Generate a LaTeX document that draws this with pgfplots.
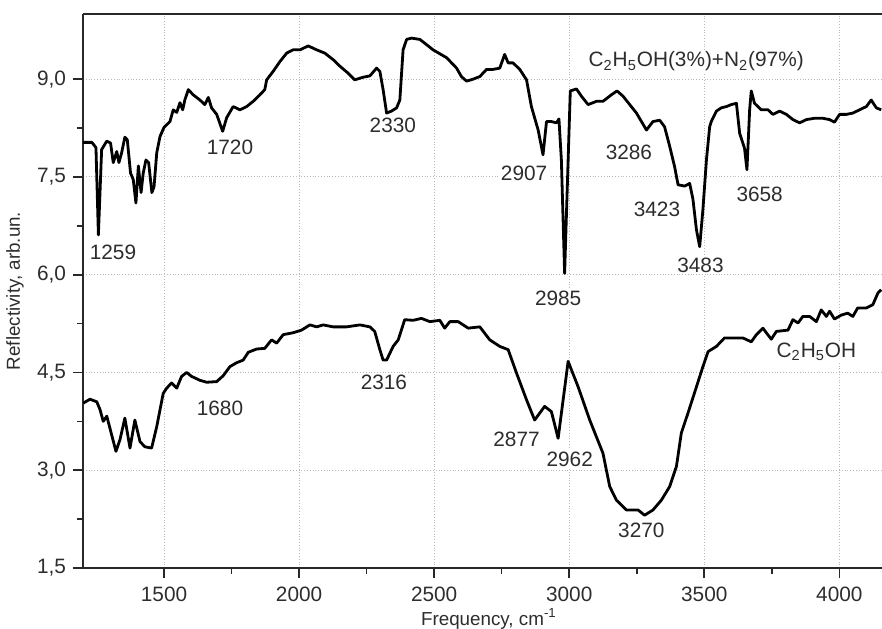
\documentclass[border=0pt]{standalone}
\usepackage{fontspec}
\setmainfont{Liberation Sans}
\usepackage{pgfplots}
\usepackage{pgfplotstable}
\pgfplotsset{compat=1.18}
\usetikzlibrary{calc}

\definecolor{axisgray}{RGB}{40,40,40}
\definecolor{txtgray}{RGB}{45,45,45}
\tikzset{lab/.style={font=\fontsize{10.4}{12}\selectfont, text=txtgray, fill=white, inner sep=1pt}}

% C2H5OH(3%)+N2(97%)
\pgfplotstableread{
x y
1200 8.03
1233 8.03
1248 7.95
1257 6.61
1269 7.92
1288 8.05
1302 8.02
1312 7.72
1325 7.89
1333 7.72
1343 7.87
1355 8.11
1364 8.07
1376 7.56
1386 7.46
1396 7.10
1405 7.67
1415 7.26
1423 7.56
1433 7.76
1443 7.72
1455 7.26
1463 7.35
1473 7.87
1485 8.12
1500 8.26
1522 8.35
1534 8.53
1547 8.49
1559 8.64
1569 8.53
1577 8.68
1590 8.84
1608 8.76
1633 8.68
1651 8.61
1664 8.72
1676 8.56
1695 8.46
1717 8.20
1732 8.41
1756 8.58
1781 8.53
1806 8.58
1830 8.66
1855 8.76
1873 8.84
1880 8.99
1904 9.12
1929 9.27
1954 9.40
1978 9.45
2003 9.45
2034 9.51
2065 9.45
2095 9.40
2126 9.30
2151 9.20
2182 9.09
2206 8.99
2237 9.03
2262 9.05
2287 9.17
2299 9.12
2311 8.84
2324 8.48
2342 8.51
2361 8.56
2373 8.68
2385 9.45
2398 9.61
2416 9.63
2447 9.61
2472 9.53
2496 9.45
2546 9.33
2583 9.17
2601 9.04
2620 8.97
2644 9.00
2669 9.04
2694 9.15
2718 9.15
2743 9.17
2761 9.38
2774 9.25
2792 9.25
2817 9.15
2842 8.99
2860 8.58
2885 8.22
2903 7.84
2916 8.35
2934 8.35
2953 8.33
2962 8.39
2971 7.76
2983 6.02
2996 7.76
3004 8.82
3027 8.85
3045 8.74
3070 8.61
3101 8.66
3125 8.66
3156 8.76
3177 8.82
3199 8.74
3224 8.61
3249 8.48
3286 8.22
3310 8.35
3335 8.37
3353 8.27
3372 7.97
3390 7.66
3403 7.38
3427 7.36
3446 7.40
3458 7.16
3471 6.69
3483 6.43
3495 7.00
3508 7.76
3520 8.27
3526 8.35
3545 8.51
3563 8.56
3582 8.58
3600 8.61
3619 8.63
3631 8.17
3649 7.94
3658 7.61
3668 8.53
3674 8.82
3686 8.63
3711 8.53
3736 8.53
3754 8.46
3779 8.51
3804 8.46
3828 8.38
3853 8.33
3878 8.38
3908 8.40
3939 8.40
3964 8.38
3982 8.34
4001 8.46
4026 8.46
4050 8.48
4075 8.53
4100 8.58
4118 8.68
4137 8.56
4155 8.53
}\mixture

% C2H5OH
\pgfplotstableread{
x y
1201 4.03
1226 4.09
1251 4.05
1263 3.93
1275 3.75
1288 3.83
1300 3.64
1322 3.29
1337 3.47
1355 3.80
1374 3.34
1392 3.77
1411 3.44
1429 3.36
1454 3.34
1473 3.67
1497 4.18
1510 4.26
1528 4.34
1547 4.26
1565 4.44
1584 4.50
1602 4.44
1633 4.38
1658 4.35
1695 4.36
1719 4.45
1744 4.59
1769 4.65
1793 4.69
1812 4.81
1843 4.86
1873 4.87
1898 5.00
1917 4.95
1941 5.08
1978 5.11
2009 5.15
2040 5.23
2065 5.20
2089 5.23
2126 5.20
2176 5.20
2225 5.23
2262 5.20
2280 5.13
2299 4.85
2311 4.69
2324 4.69
2348 4.90
2367 5.00
2391 5.31
2422 5.30
2453 5.33
2484 5.28
2521 5.30
2539 5.18
2558 5.28
2589 5.28
2626 5.18
2669 5.20
2706 5.00
2743 4.90
2774 4.85
2805 4.49
2842 4.08
2872 3.77
2909 3.98
2934 3.90
2959 3.49
2996 4.67
3033 4.28
3076 3.77
3125 3.26
3150 2.75
3175 2.54
3212 2.39
3255 2.39
3279 2.31
3310 2.39
3341 2.54
3372 2.75
3397 3.06
3415 3.57
3440 3.88
3471 4.28
3495 4.59
3514 4.82
3545 4.90
3575 5.03
3606 5.03
3643 5.03
3674 4.97
3693 5.08
3717 5.18
3748 5.01
3767 5.13
3810 5.15
3828 5.31
3847 5.26
3865 5.36
3890 5.36
3915 5.28
3933 5.46
3952 5.36
3964 5.44
3982 5.32
4007 5.38
4031 5.41
4050 5.36
4068 5.49
4100 5.49
4124 5.54
4143 5.72
4155 5.77
}\ethanol

\begin{document}
\begin{tikzpicture}
\begin{axis}[
  scale only axis,
  width=399.5pt, height=277pt,
  xmin=1200, xmax=4158,
  ymin=1.5, ymax=10,
  xtick={1500,2000,2500,3000,3500,4000},
  ytick={1.5,3,4.5,6,7.5,9},
  minor x tick num=1,
  minor y tick num=1,
  axis lines*=left,
  tick align=outside,
  major tick length=5pt,
  minor tick length=3pt,
  axis line style={line width=1pt, axisgray},
  every tick/.style={line width=0.8pt, axisgray},
  grid=major,
  grid style={gray!55, densely dotted, line width=0.5pt},
  /pgf/number format/assume math mode=true,
  xticklabel style={/pgf/number format/1000 sep={}, yshift=-1pt},
  yticklabel style={/pgf/number format/.cd, fixed, fixed zerofill, precision=1, use comma},
  tick label style={font=\fontsize{10.4}{12}\selectfont, text=txtgray},
  xlabel={Frequency, cm\textsuperscript{-1}},
  ylabel={Reflectivity, arb.un.},
  label style={font=\fontsize{9.4}{11}\selectfont, text=txtgray},
  xlabel style={at={(axis description cs:0.508,-0.1030)}, anchor=base},
  ylabel style={at={(axis description cs:-0.085,0.5)}, anchor=center},
]
% peak labels, upper curve
\node[lab] at (axis cs:1311,6.35) {1259};
\node[lab] at (axis cs:1744,7.95) {1720};
\node[lab] at (axis cs:2347,8.29) {2330};
\node[lab] at (axis cs:2833,7.56) {2907};
\node[lab] at (axis cs:2959,5.64) {2985};
\node[lab] at (axis cs:3221,7.87) {3286};
\node[lab] at (axis cs:3325,7.01) {3423};
\node[lab] at (axis cs:3486,6.15) {3483};
\node[lab] at (axis cs:3705,7.23) {3658};
\node[lab] at (axis cs:3470,9.27) {C\textsubscript{2}H\textsubscript{5}OH(3\%)+N\textsubscript{2}(97\%)};
% peak labels, lower curve
\node[lab] at (axis cs:1707,3.95) {1680};
\node[lab] at (axis cs:2314,4.35) {2316};
\node[lab] at (axis cs:2805,3.47) {2877};
\node[lab] at (axis cs:3002,3.16) {2962};
\node[lab] at (axis cs:3267,2.08) {3270};
\node[lab] at (axis cs:3915,4.82) {C\textsubscript{2}H\textsubscript{5}OH};

\addplot[black, line width=1.4pt, line join=round] table[x=x, y=y] {\mixture};
\addplot[black, line width=1.4pt, line join=round] table[x=x, y=y] {\ethanol};
\end{axis}
\draw[line width=1pt, axisgray] (current axis.north west) -- (current axis.north east);
\pgfresetboundingbox
\path ($(current axis.south west)+(-41.5pt,-30pt)$) rectangle ($(current axis.north east)+(0pt,7pt)$);
\end{tikzpicture}
\end{document}
